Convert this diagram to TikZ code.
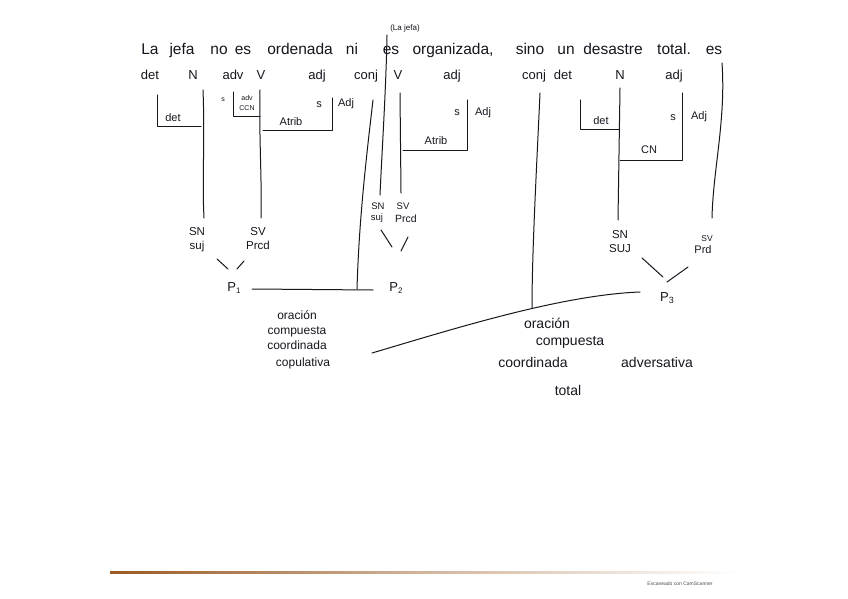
\documentclass[tikz,border=0pt]{standalone}
\usepackage{fontspec}
\setmainfont{Liberation Sans}
\definecolor{ink}{HTML}{16161F}
\definecolor{scanline}{HTML}{9A5A24}
\begin{document}
\begin{tikzpicture}[x=1pt,y=-1pt,
  every node/.style={text=ink, inner sep=0pt},
  ln/.style={draw=ink, line width=1pt, line cap=round, line join=round},
  wd/.style={font=\fontsize{15.5}{15.5}\selectfont, anchor=base},
  ps/.style={font=\fontsize{13}{13}\selectfont, anchor=base},
  lab/.style={font=\fontsize{11}{11}\selectfont},
  tny/.style={font=\fontsize{7}{7}\selectfont},
  fn/.style={font=\fontsize{11.5}{11.5}\selectfont, anchor=base},
  sm/.style={font=\fontsize{9.5}{9.5}\selectfont, anchor=base},
  pn/.style={font=\fontsize{13}{13}\selectfont},
  bl/.style={font=\fontsize{12}{12}\selectfont, anchor=base},
  br/.style={font=\fontsize{14}{14}\selectfont, anchor=base}]
\useasboundingbox[fill=white] (0,0) rectangle (848,599);

% sentence
\node[wd] (w1) at (150,55) {La};
\node[wd] (w2) at (182,55) {jefa};
\node[wd] (w3) at (219,55) {no};
\node[wd] (w4) at (243,55) {es};
\node[wd] (w5) at (300,55) {ordenada};
\node[wd] (w6) at (352,55) {ni};
\node[wd] (w7) at (391,55) {es};
\node[wd] (w8) at (453,55) {organizada,};
\node[wd] (w9) at (530,55) {sino};
\node[wd] (w10) at (566,55) {un};
\node[wd] (w11) at (613,55) {desastre};
\node[wd] (w12) at (674,55) {total.};
\node[wd] (w13) at (714,55) {es};
\node[font=\fontsize{8}{8}\selectfont] (tacito) at (405,28) {(La jefa)};

% categories
\node[ps] (c1) at (150,80) {det};
\node[ps] (c2) at (193,80) {N};
\node[ps] (c3) at (233,80) {adv};
\node[ps] (c4) at (261,80) {V};
\node[ps] (c5) at (317,80) {adj};
\node[ps] (c6) at (366,80) {conj};
\node[ps] (c7) at (398,80) {V};
\node[ps] (c8) at (452,80) {adj};
\node[ps] (c9) at (534,80) {conj};
\node[ps] (c10) at (563,80) {det};
\node[ps] (c11) at (620,80) {N};
\node[ps] (c12) at (674,80) {adj};

% ---- P1 ----
\coordinate (d1a) at (157,95); \coordinate (d1b) at (157,127); \coordinate (d1c) at (201,127);
\draw[ln] (d1a) -- (d1b) -- (d1c);
\node[lab] (d1t) at (173,118) {det};
\coordinate (n1top) at (203,90); \coordinate (n1bot) at (204,218);
\draw[ln] (n1top) .. controls (205,140) and (202,180) .. (n1bot);
\node[tny] (s0) at (223,100) {s};
\coordinate (a1a) at (233,92); \coordinate (a1b) at (233,117); \coordinate (a1c) at (260,117);
\draw[ln] (a1a) -- (a1b) -- (a1c);
\node[tny] (a1t1) at (247,98) {adv};
\node[tny] (a1t2) at (247,108) {CCN};
\coordinate (v1top) at (260,90); \coordinate (v1bot) at (261,218);
\draw[ln] (v1top) .. controls (259,140) and (262,180) .. (v1bot);
\coordinate (t1a) at (263,131); \coordinate (t1b) at (332,131); \coordinate (t1c) at (332,98);
\draw[ln] (t1a) -- (t1b) -- (t1c);
\node[lab] (t1t) at (291,122) {Atrib};
\node[lab] (t1s) at (319,105) {s};
\node[lab] (t1n) at (346,104) {Adj};
\node[fn] (sn1) at (197,235) {SN};
\node[fn] (suj1) at (197,249) {suj};
\node[fn] (sv1) at (258,235) {SV};
\node[fn] (pr1) at (258,249) {Prcd};
\coordinate (b1a) at (217,259); \coordinate (b1b) at (228,269);
\coordinate (b1c) at (244,261); \coordinate (b1d) at (237,269);
\draw[ln] (b1a) -- (b1b); \draw[ln] (b1c) -- (b1d);
\node[pn] (P1) at (234,288) {P\raisebox{-2pt}{\fontsize{8}{8}\selectfont 1}};

% ---- P2 ----
\coordinate (cj1a) at (373,100); \coordinate (cj1b) at (357,289);
\draw[ln] (cj1a) .. controls (366,160) and (359,220) .. (cj1b);
\coordinate (h12a) at (252,289); \coordinate (h12b) at (373,290);
\draw[ln] (h12a) -- (h12b);
\coordinate (sjtop) at (387,35); \coordinate (sjbot) at (380,195);
\draw[ln] (sjtop) .. controls (386,90) and (382,150) .. (sjbot);
\coordinate (v2top) at (400,93); \coordinate (v2bot) at (401,193);
\draw[ln] (v2top) -- (v2bot);
\coordinate (t2a) at (403,150); \coordinate (t2b) at (467,150); \coordinate (t2c) at (467,100);
\draw[ln] (t2a) -- (t2b) -- (t2c);
\node[lab] (t2t) at (436,141) {Atrib};
\node[lab] (t2s) at (457,113) {s};
\node[lab] (t2n) at (483,113) {Adj};
\node[sm] (sn2) at (378,209) {SN};
\node[sm] (suj2) at (377,220) {suj};
\node[sm] (sv2) at (403,209) {SV};
\node[sm, font=\fontsize{10.5}{10.5}\selectfont] (pr2) at (406,222) {Prcd};
\coordinate (b2a) at (381,230); \coordinate (b2b) at (392,247);
\coordinate (b2c) at (408,237); \coordinate (b2d) at (401,251);
\draw[ln] (b2a) -- (b2b); \draw[ln] (b2c) -- (b2d);
\node[pn] (P2) at (396,288) {P\raisebox{-2pt}{\fontsize{8}{8}\selectfont 2}};

% ---- P3 ----
\coordinate (cj2a) at (540,93); \coordinate (cj2b) at (532,308);
\draw[ln] (cj2a) .. controls (537,160) and (532,250) .. (cj2b);
\coordinate (d3a) at (580,100); \coordinate (d3b) at (580,130); \coordinate (d3c) at (619,130);
\draw[ln] (d3a) -- (d3b) -- (d3c);
\node[lab] (d3t) at (601,121) {det};
\coordinate (n3top) at (620,88); \coordinate (n3bot) at (618,220);
\draw[ln] (n3top) -- (n3bot);
\coordinate (cn3a) at (620,160); \coordinate (cn3b) at (682,160); \coordinate (cn3c) at (682,93);
\draw[ln] (cn3a) -- (cn3b) -- (cn3c);
\node[lab] (cn3t) at (649,150) {CN};
\node[lab] (cn3s) at (673,118) {s};
\node[lab] (cn3n) at (699,117) {Adj};
\coordinate (v3top) at (722,63); \coordinate (v3bot) at (712,218);
\draw[ln] (v3top) .. controls (726,120) and (713,170) .. (v3bot);
\node[fn] (sn3) at (620,238) {SN};
\node[fn] (suj3) at (620,252) {SUJ};
\node[font=\fontsize{8.5}{8.5}\selectfont, anchor=base] (sv3) at (707,241) {SV};
\node[font=\fontsize{11}{11}\selectfont, anchor=base] (pr3) at (703,253) {Prd};
\coordinate (b3a) at (642,258); \coordinate (b3b) at (663,277);
\coordinate (b3c) at (688,267); \coordinate (b3d) at (667,282);
\draw[ln] (b3a) -- (b3b); \draw[ln] (b3c) -- (b3d);
\node[pn] (P3) at (667,298) {P\raisebox{-2pt}{\fontsize{9}{9}\selectfont 3}};

% ---- bottom ----
\coordinate (ca) at (372,353); \coordinate (cb) at (640,292);
\draw[ln] (ca) .. controls (450,330) and (560,295) .. (cb);
\node[bl] (l1) at (297,319) {oración};
\node[bl] (l2) at (297,334) {compuesta};
\node[bl] (l3) at (297,349) {coordinada};
\node[bl] (l4) at (303,366) {copulativa};
\node[br] (r1) at (547,328) {oración};
\node[br] (r2) at (570,345) {compuesta};
\node[br] (r3) at (533,367) {coordinada};
\node[br] (r4) at (657,367) {adversativa};
\node[br] (r5) at (568,395) {total};

% scan footer
\shade[left color=scanline, right color=white, middle color=scanline!45] (110,571) rectangle (740,573.5);
\node[font=\fontsize{5}{5}\selectfont, text=black!70] (scan) at (680,584) {Escaneado con CamScanner};
\end{tikzpicture}
\end{document}
